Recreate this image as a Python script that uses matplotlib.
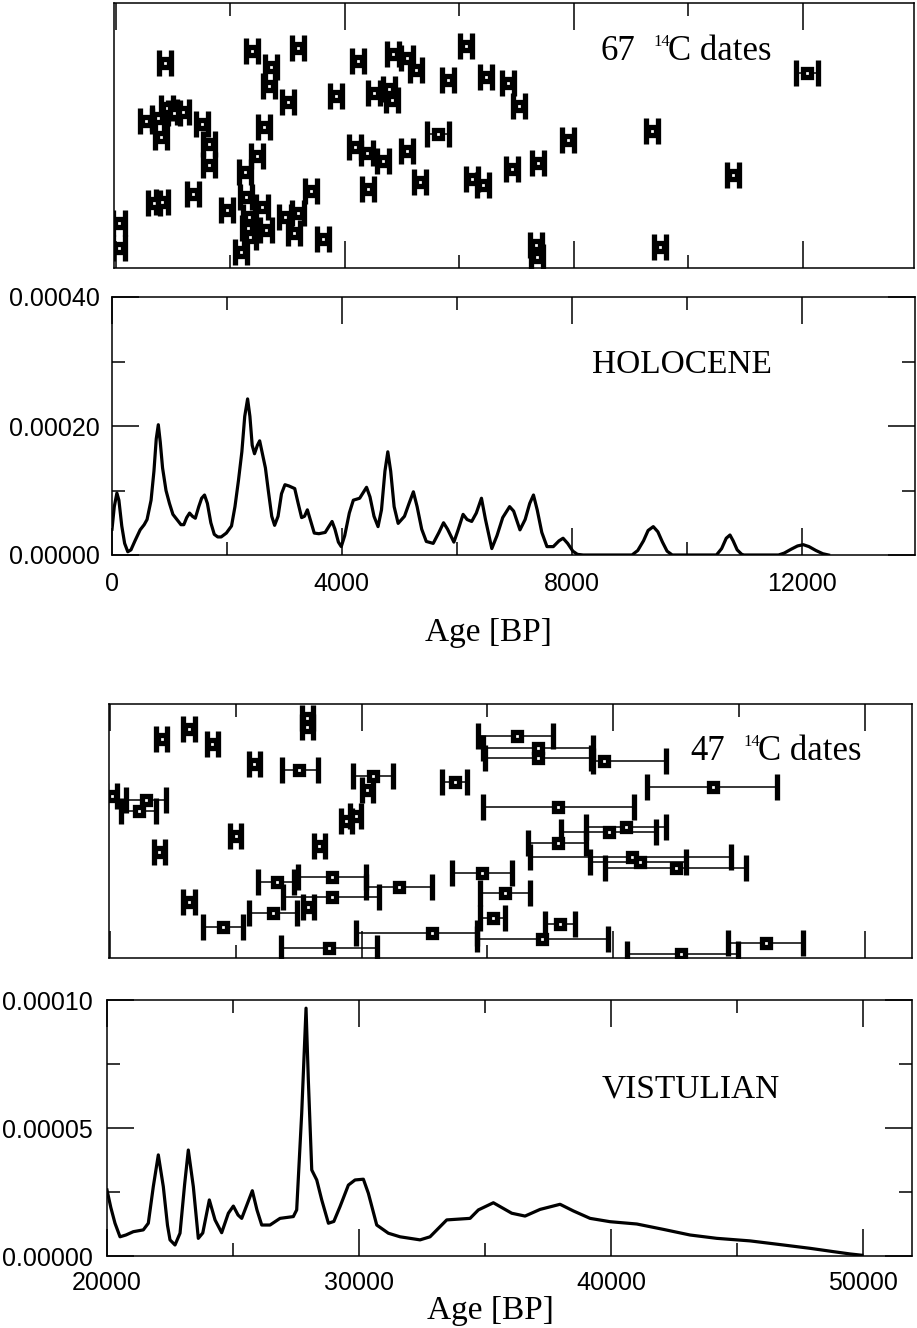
import matplotlib
matplotlib.use('Agg')
import matplotlib.pyplot as plt
from matplotlib.ticker import MultipleLocator, FormatStrFormatter

plt.rcParams['font.family'] = ['Liberation Sans', 'DejaVu Sans']

W, H = 917, 1328

# --- Holocene: 67 radiocarbon dates (age BP, plotting row, 1-sigma in years)
holo_age = [856, 2376, 3179, 2707, 2672, 3004, 3843, 4227, 4838, 5083,
            5240, 6113, 5799, 6463, 6847, 7039, 4506, 4769, 4821, 524,
            734, 891, 1013, 1170, 786, 1502, 1624, 1624, 2585, 2463,
            2253, 1345, 664, 803, 1939, 2271, 2550, 2323, 2306, 2341,
            2620, 2952, 3179, 3109, 3406, 3616, 2183, 52, 52, 4175,
            4384, 4664, 5083, 5624, 4402, 5310, 6218, 6410, 6917, 7371,
            7895, 9362, 10777, 12070, 7336, 7354, 9502]
holo_row = [77.4, 81.9, 83.0, 75.8, 68.7, 62.6, 64.9, 78.1, 80.8, 79.2,
            74.7, 83.8, 70.9, 72.1, 69.8, 61.1, 66.0, 67.5, 63.4, 55.5,
            56.6, 60.4, 58.5, 58.9, 49.4, 54.3, 46.8, 38.9, 53.2, 42.3,
            36.2, 27.9, 24.5, 24.9, 21.9, 26.8, 23.0, 19.2, 15.1, 11.7,
            14.3, 19.2, 20.8, 13.2, 29.1, 10.9, 6.0, 17.0, 7.5, 45.7,
            43.4, 40.4, 44.2, 50.6, 29.8, 32.5, 33.6, 31.3, 37.4, 39.6,
            48.3, 51.7, 35.1, 73.6, 8.7, 4.2, 7.9]
holo_err = [110] * 67
holo_err[53] = 190
holo_err[63] = 200

# --- Holocene probability curve
holo_curve_age = [0, 40, 85, 120, 170, 220, 275, 330, 400, 490,
                  560, 610, 680, 730, 770, 806, 840, 880, 940, 1000,
                  1060, 1130, 1200, 1250, 1300, 1350, 1400, 1450, 1510, 1560,
                  1610, 1660, 1720, 1780, 1840, 1900, 1990, 2080, 2140, 2200,
                  2260, 2310, 2360, 2400, 2440, 2480, 2530, 2570, 2610, 2670,
                  2720, 2780, 2830, 2890, 2950, 3010, 3080, 3180, 3240, 3300,
                  3350, 3400, 3450, 3520, 3600, 3710, 3780, 3830, 3880, 3940,
                  3990, 4050, 4130, 4200, 4310, 4380, 4430, 4490, 4560, 4630,
                  4690, 4750, 4800, 4850, 4910, 4980, 5090, 5170, 5245, 5310,
                  5390, 5470, 5590, 5690, 5770, 5840, 5950, 6020, 6110, 6180,
                  6260, 6340, 6430, 6500, 6610, 6700, 6800, 6920, 6990, 7100,
                  7190, 7270, 7335, 7400, 7480, 7570, 7680, 7780, 7850, 7930,
                  8020, 8100, 8200, 9050, 9150, 9250, 9330, 9420, 9500, 9580,
                  9660, 9750, 10520, 10610, 10690, 10755, 10810, 10880, 10960, 11000,
                  11600, 11700, 11820, 11930, 12030, 12130, 12250, 12370, 12470]
holo_curve_p = [4.0e-5, 7.5e-5, 9.6e-5, 8.5e-5, 4.5e-5, 1.8e-5, 0.5e-5, 0.8e-5, 2.2e-5, 3.9e-5,
                4.7e-5, 5.5e-5, 8.5e-5, 13.0e-5, 18.0e-5, 20.2e-5, 17.5e-5, 13.5e-5, 10.0e-5, 8.0e-5,
                6.3e-5, 5.5e-5, 4.7e-5, 4.7e-5, 5.8e-5, 6.5e-5, 6.0e-5, 5.7e-5, 7.5e-5, 8.8e-5,
                9.3e-5, 8.0e-5, 5.0e-5, 3.2e-5, 2.8e-5, 2.8e-5, 3.4e-5, 4.5e-5, 7.5e-5, 11.5e-5,
                16.0e-5, 21.5e-5, 24.2e-5, 21.5e-5, 17.0e-5, 15.7e-5, 17.0e-5, 17.7e-5, 16.0e-5, 13.5e-5,
                10.0e-5, 6.0e-5, 4.6e-5, 6.0e-5, 9.5e-5, 10.9e-5, 10.7e-5, 10.3e-5, 8.0e-5, 5.8e-5,
                6.0e-5, 7.0e-5, 5.5e-5, 3.4e-5, 3.3e-5, 3.5e-5, 4.5e-5, 5.2e-5, 4.0e-5, 2.0e-5,
                1.3e-5, 3.0e-5, 6.5e-5, 8.5e-5, 8.8e-5, 9.8e-5, 10.5e-5, 9.0e-5, 6.0e-5, 4.4e-5,
                7.0e-5, 13.0e-5, 16.0e-5, 13.0e-5, 7.5e-5, 4.9e-5, 6.0e-5, 8.0e-5, 9.8e-5, 7.5e-5,
                4.0e-5, 2.1e-5, 1.8e-5, 3.5e-5, 5.0e-5, 4.0e-5, 2.0e-5, 3.8e-5, 6.3e-5, 5.5e-5,
                5.2e-5, 6.5e-5, 8.8e-5, 5.5e-5, 1.0e-5, 3.0e-5, 5.8e-5, 7.5e-5, 6.8e-5, 3.9e-5,
                5.5e-5, 8.0e-5, 9.3e-5, 7.0e-5, 3.5e-5, 1.3e-5, 1.3e-5, 2.2e-5, 2.6e-5, 1.8e-5,
                0.6e-5, 0.1e-5, 0.0, 0.0, 0.7e-5, 2.2e-5, 3.8e-5, 4.4e-5, 3.6e-5, 2.0e-5,
                0.6e-5, 0.0, 0.0, 1.0e-5, 2.6e-5, 3.1e-5, 2.2e-5, 0.8e-5, 0.1e-5, 0.0,
                0.0, 0.3e-5, 0.9e-5, 1.4e-5, 1.6e-5, 1.3e-5, 0.7e-5, 0.2e-5, 0.0]

# --- Vistulian: 47 radiocarbon dates (age BP, plotting row, lower/upper error)
vist_age = [22050, 23140, 24070, 25730, 27835, 27835, 27520, 30435, 30235, 20060,
            21450, 21155, 25000, 21950, 28310, 29400, 29760, 26620, 28805, 31490,
            28805, 26485, 27875, 23140, 24495, 28700, 32780, 34805, 35695, 35205,
            37880, 37190, 36160, 37015, 37015, 39630, 33705, 43950, 37810, 40530,
            39825, 37810, 40730, 41060, 42490, 42690, 46070]
vist_row = [86.2, 90.2, 84.3, 76.3, 94.5, 91.1, 74.0, 71.8, 66.1, 63.8,
            62.2, 58.0, 48.1, 41.9, 44.1, 53.9, 55.9, 30.0, 31.8, 27.8,
            23.9, 17.8, 20.0, 22.2, 12.1, 3.8, 9.7, 33.6, 25.5, 15.6,
            13.4, 7.5, 87.5, 82.6, 78.9, 77.7, 69.4, 67.4, 59.6, 51.7,
            49.7, 45.4, 39.9, 37.9, 35.6, 1.5, 5.8]
vist_err_lo = [220, 220, 220, 220, 220, 220, 700, 770, 220, 220,
               795, 730, 220, 220, 220, 220, 220, 730, 1330, 1310,
               1920, 965, 220, 220, 795, 1920, 3000, 1210, 995, 505,
               570, 2620, 1525, 2190, 2120, 425, 500, 2600, 2980, 1590,
               1910, 1195, 4015, 1990, 2820, 2120, 1500]
vist_err_hi = [220, 220, 220, 220, 220, 220, 730, 795, 220, 220,
               795, 665, 220, 220, 220, 220, 220, 690, 1360, 1310,
               1890, 955, 220, 220, 795, 1895, 1790, 1180, 1020, 515,
               610, 2610, 1455, 2190, 2120, 2490, 500, 2545, 3010, 1560,
               1870, 1130, 3945, 1855, 2810, 2280, 1485]

# --- Vistulian probability curve
vist_curve_age = [20000, 20150, 20317, 20516, 20750, 21044, 21440, 21639, 21837, 22036,
                  22234, 22400, 22500, 22698, 22897, 23080, 23226, 23425, 23623, 23800,
                  24060, 24286, 24550, 24815, 25013, 25200, 25345, 25766, 25950, 26139,
                  26468, 26865, 27393, 27526, 27725, 27897, 27988, 28124, 28322, 28520,
                  28785, 29000, 29246, 29577, 29841, 30172, 30370, 30702, 31163, 31627,
                  32421, 32817, 33480, 34405, 34735, 35330, 36060, 36587, 37183, 37976,
                  38505, 39167, 39960, 41020, 42075, 43135, 44194, 45516, 46838, 47897,
                  48823, 49484, 49948]
vist_curve_p = [2.58e-5, 1.90e-5, 1.28e-5, 0.75e-5, 0.82e-5, 0.95e-5, 1.02e-5, 1.28e-5, 2.71e-5, 3.95e-5,
                2.71e-5, 1.20e-5, 0.63e-5, 0.43e-5, 0.89e-5, 2.80e-5, 4.14e-5, 2.71e-5, 0.69e-5, 0.90e-5,
                2.19e-5, 1.41e-5, 0.91e-5, 1.67e-5, 1.95e-5, 1.60e-5, 1.47e-5, 2.55e-5, 1.80e-5, 1.21e-5,
                1.21e-5, 1.47e-5, 1.54e-5, 1.80e-5, 5.57e-5, 9.68e-5, 6.88e-5, 3.36e-5, 2.97e-5, 2.19e-5,
                1.28e-5, 1.35e-5, 1.93e-5, 2.77e-5, 2.97e-5, 3.00e-5, 2.45e-5, 1.21e-5, 0.89e-5, 0.75e-5,
                0.63e-5, 0.75e-5, 1.41e-5, 1.47e-5, 1.80e-5, 2.08e-5, 1.67e-5, 1.56e-5, 1.82e-5, 2.02e-5,
                1.76e-5, 1.47e-5, 1.34e-5, 1.25e-5, 1.04e-5, 0.82e-5, 0.69e-5, 0.59e-5, 0.43e-5, 0.30e-5,
                0.17e-5, 0.08e-5, 0.03e-5]


def axes_px(fig, left, top, right, bottom):
    return fig.add_axes([left / W, 1 - bottom / H, (right - left) / W, (bottom - top) / H])


def frame(ax, xmaj, xmin, ymaj=None, ymin=None):
    for s in ax.spines.values():
        s.set_linewidth(1.1)
    ax.xaxis.set_major_locator(MultipleLocator(xmaj))
    ax.xaxis.set_minor_locator(MultipleLocator(xmin))
    ax.tick_params(which='both', direction='in', top=True, bottom=True, width=1.1)
    ax.tick_params(which='major', length=19.5)
    ax.tick_params(which='minor', length=9.5)
    if ymaj is None:
        ax.tick_params(which='both', left=False, right=False,
                       labelleft=False, labelbottom=False)
    else:
        ax.yaxis.set_major_locator(MultipleLocator(ymaj))
        ax.yaxis.set_minor_locator(MultipleLocator(ymin))
        ax.yaxis.set_major_formatter(FormatStrFormatter('%.5f'))
        ax.tick_params(which='both', left=True, right=True)
        ax.tick_params(axis='both', labelsize=18)


def plot_dates(ax, ages, rows, err):
    ax.errorbar(ages, rows, xerr=err, fmt='s', ms=6.2, mfc='white', mec='black',
                mew=3.8, ecolor='black', elinewidth=1.1, capsize=9.7, capthick=1.1)


def serif_text(fig, x, y, s, size, **kw):
    fig.text(x / W, 1 - y / H, s, family='Liberation Serif', fontsize=size,
             va='baseline', ha='left', **kw)


def dates_title(fig, x, y, n):
    serif_text(fig, x, y, n, 25)
    serif_text(fig, x + 53, y - 14, '14', 12)
    serif_text(fig, x + 68, y, 'C dates', 25)


fig = plt.figure(figsize=(W / 100, H / 100), dpi=100)

# Holocene dates
ax1 = axes_px(fig, 114, 3, 914, 268)
plot_dates(ax1, holo_age, holo_row, holo_err)
ax1.set_xlim(-35, 13940)
ax1.set_ylim(0, 100)
frame(ax1, 4000, 2000)
dates_title(fig, 600, 60, '67')

# Holocene curve
ax2 = axes_px(fig, 112, 297, 915, 555)
ax2.plot(holo_curve_age, holo_curve_p, color='black', lw=2.3, solid_joinstyle='round')
ax2.set_xlim(0, 13975)
ax2.set_ylim(0, 0.0004)
frame(ax2, 4000, 2000, 0.0002, 0.0001)
ax2.tick_params(axis='x', pad=12)
ax2.tick_params(axis='y', pad=9)
serif_text(fig, 592, 373, 'HOLOCENE', 24)
serif_text(fig, 425, 641, 'Age [BP]', 24)

# Vistulian dates
ax3 = axes_px(fig, 109, 704, 912, 958)
plot_dates(ax3, vist_age, vist_row, [vist_err_lo, vist_err_hi])
ax3.set_xlim(19960, 51880)
ax3.set_ylim(0, 100)
frame(ax3, 10000, 5000)
dates_title(fig, 690, 760, '47')

# Vistulian curve
ax4 = axes_px(fig, 107, 1000, 912, 1256)
ax4.plot(vist_curve_age, vist_curve_p, color='black', lw=2.3, solid_joinstyle='round')
ax4.set_xlim(20000, 51940)
ax4.set_ylim(0, 0.0001)
frame(ax4, 10000, 5000, 0.00005, 0.000025)
ax4.tick_params(axis='x', pad=11)
ax4.tick_params(axis='y', pad=10)
serif_text(fig, 602, 1097, 'VISTULIAN', 24)
serif_text(fig, 427, 1319, 'Age [BP]', 24)

fig.savefig('out.png', dpi=100)
